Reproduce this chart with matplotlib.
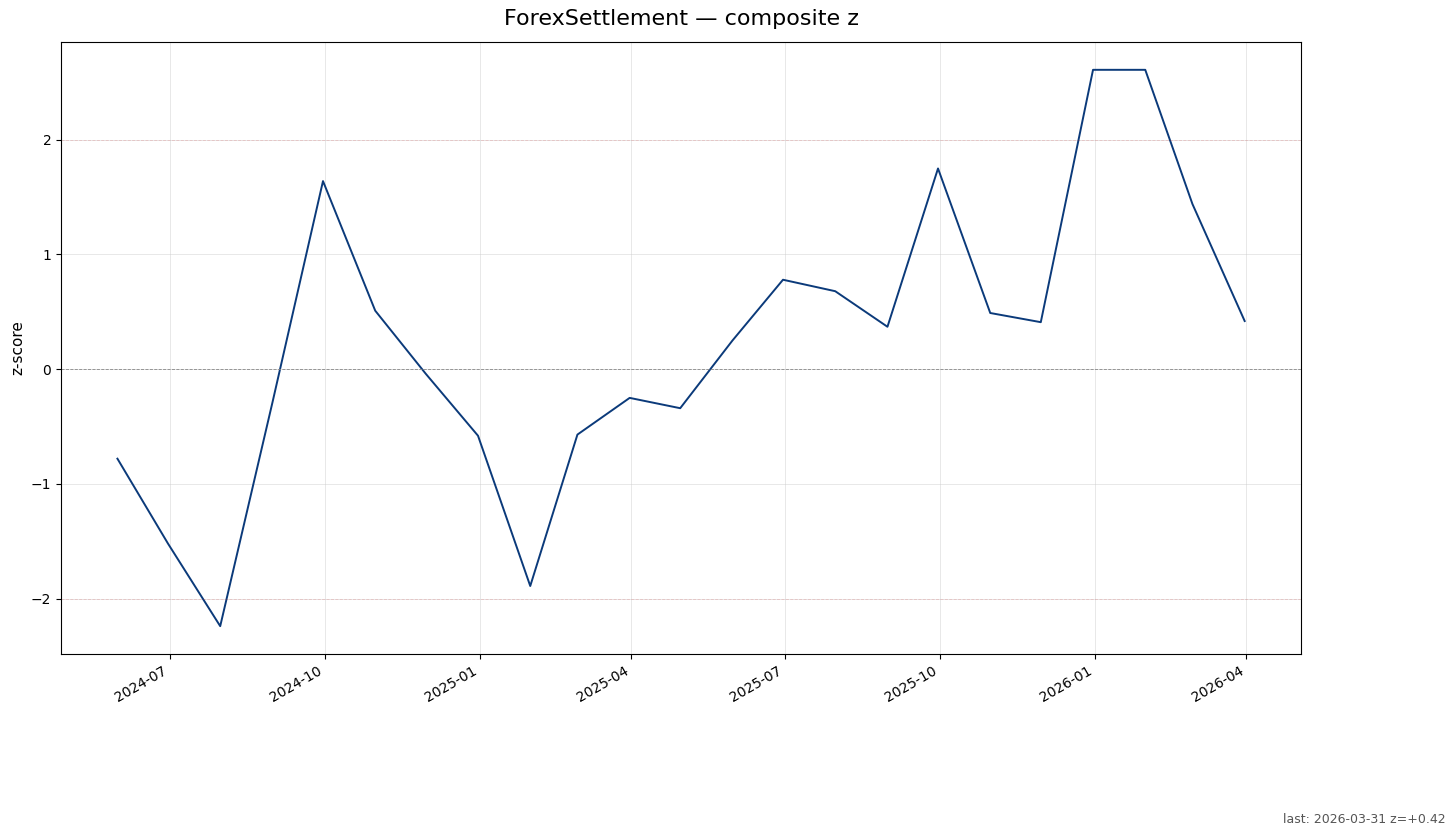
import pandas as pd
import matplotlib
matplotlib.use("Agg")
import matplotlib.pyplot as plt
import matplotlib.dates as mdates

SERIES_NAME = "ForexSettlement"

# 월말 기준 composite z-score
dates = pd.to_datetime([
    "2024-05-31", "2024-06-30", "2024-07-31", "2024-08-31", "2024-09-30",
    "2024-10-31", "2024-11-30", "2024-12-31", "2025-01-31", "2025-02-28",
    "2025-03-31", "2025-04-30", "2025-05-31", "2025-06-30", "2025-07-31",
    "2025-08-31", "2025-09-30", "2025-10-31", "2025-11-30", "2025-12-31",
    "2026-01-31", "2026-02-28", "2026-03-31",
])
z_values = [
    -0.78, -1.52, -2.24, -0.29, 1.64,
    0.51, -0.04, -0.58, -1.89, -0.57,
    -0.25, -0.34, 0.25, 0.78, 0.68,
    0.37, 1.75, 0.49, 0.41, 2.61,
    2.61, 1.44, 0.42,
]

z = pd.Series(z_values, index=dates, name="z")

fig, ax = plt.subplots(figsize=(14.54, 8.35), dpi=100)
fig.subplots_adjust(left=0.042, right=0.8948, top=0.9497, bottom=0.2168)

ax.plot(z.index, z.values, color="#0b3a7a", linewidth=1.4)
ax.axhline(0, color="#888888", linestyle="--", linewidth=0.6)
for lvl in (2, -2):
    ax.axhline(lvl, color="#d62728", linestyle="--", linewidth=0.6, alpha=0.2)

ax.grid(True, color="#cccccc", alpha=0.45, linewidth=0.7)
ax.set_ylabel("z-score", fontsize=11)
ax.set_title(f"{SERIES_NAME} — composite z", fontsize=16, pad=12)

ax.xaxis.set_major_locator(mdates.MonthLocator(bymonth=[1, 4, 7, 10]))
ax.xaxis.set_major_formatter(mdates.DateFormatter("%Y-%m"))
plt.setp(ax.xaxis.get_majorticklabels(), rotation=30, ha="right")

last_date = z.index[-1]
fig.text(0.994, 0.011, f"last: {last_date:%Y-%m-%d} z={z.iloc[-1]:+.2f}",
         ha="right", va="bottom", fontsize=9, color="#555555")

fig.savefig("out.png", dpi=100)
